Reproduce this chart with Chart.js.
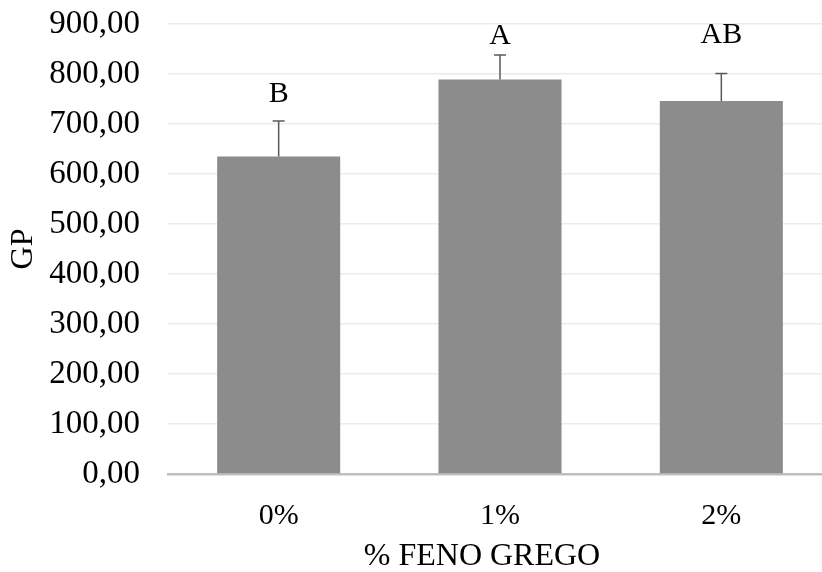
<!DOCTYPE html>
<html>
<head>
<meta charset="utf-8">
<script src="https://cdn.jsdelivr.net/npm/chart.js@4"></script>
<style>
  body { margin: 0; background: #fff; }
  #wrap { width: 822px; height: 572px; overflow: hidden; }
</style>
</head>
<body>
<div id="wrap"><canvas id="barCanvas" width="832" height="572"></canvas></div>
<script>
const categories = ["0%", "1%", "2%"];
const gpMeans = [635, 789, 746];
const gpErrors = [71, 49, 55];
const letters = ["B", "A", "AB"];
const letterLevels = [745, 860, 862];  // altura (valor) onde fica a letra
const yTicks = [0, 100, 200, 300, 400, 500, 600, 700, 800, 900];
const xTitle = '% FENO GREGO';

const serif = "'Liberation Serif', 'Times New Roman', serif";

// barras de erro (só para cima) e letras de significância
const errorBarPlugin = {
  id: 'errorBars',
  afterDatasetsDraw(chart) {
    const ctx = chart.ctx;
    const y = chart.scales.y;
    const meta = chart.getDatasetMeta(0);
    ctx.save();
    meta.data.forEach(function (bar, i) {
      const x = bar.x;
      const yTop = y.getPixelForValue(gpMeans[i]);
      const yErr = y.getPixelForValue(gpMeans[i] + gpErrors[i]);
      ctx.strokeStyle = '#595959';
      ctx.lineWidth = 1.5;
      ctx.beginPath();
      ctx.moveTo(x, yTop);
      ctx.lineTo(x, yErr);
      ctx.moveTo(x - 6, yErr);
      ctx.lineTo(x + 6, yErr);
      ctx.stroke();

      ctx.fillStyle = '#000';
      ctx.font = '30px ' + serif;
      ctx.textAlign = 'center';
      ctx.textBaseline = 'alphabetic';
      ctx.fillText(letters[i], x, y.getPixelForValue(letterLevels[i]));
    });

    // título do eixo x (no Excel fica um pouco à esquerda do centro)
    const area = chart.chartArea;
    ctx.font = '32px ' + serif;
    ctx.textBaseline = 'middle';
    ctx.fillText(xTitle, area.left + 314, 557);
    ctx.restore();
  }
};

const ctx = document.getElementById('barCanvas').getContext('2d');
const myChart = new Chart(ctx, {
  type: 'bar',
  data: {
    labels: categories,
    datasets: [{
      label: 'GP',
      data: gpMeans,
      backgroundColor: '#8c8c8c',
      borderWidth: 0,
      barPercentage: 1,
      categoryPercentage: 0.556
    }]
  },
  options: {
    responsive: false,
    animation: false,
    layout: { padding: { left: 4, right: 0, top: 24, bottom: 0 } },
    plugins: {
      legend: { display: false },
      tooltip: { enabled: false }
    },
    scales: {
      x: {
        afterFit: function (axis) {
          axis.height = 98;
          axis.paddingLeft = 0;
          axis.paddingRight = 0;
        },
        grid: { display: false, drawTicks: false },
        border: { display: true, color: '#bfbfbf', width: 2.5 },
        ticks: {
          padding: 24,
          color: '#000',
          font: { family: serif, size: 30 }
        },
        title: { display: false }
      },
      y: {
        min: 0,
        max: 900,
        afterBuildTicks: function (axis) {
          axis.ticks = yTicks.map(function (v) { return { value: v }; });
        },
        afterFit: function (axis) {
          axis.width = 164;
          axis.paddingTop = 0;
          axis.paddingBottom = 0;
        },
        grid: { color: '#ebebeb', lineWidth: 1.5, drawTicks: false },
        border: { display: false },
        ticks: {
          padding: 28,
          color: '#000',
          font: { family: serif, size: 33 },
          callback: function (v) { return v.toFixed(2).replace('.', ','); }
        },
        title: {
          display: true,
          text: 'GP',
          color: '#000',
          padding: { top: 0, bottom: 4 },
          font: { family: serif, size: 32 }
        }
      }
    }
  },
  plugins: [errorBarPlugin]
});
</script>
</body>
</html>
